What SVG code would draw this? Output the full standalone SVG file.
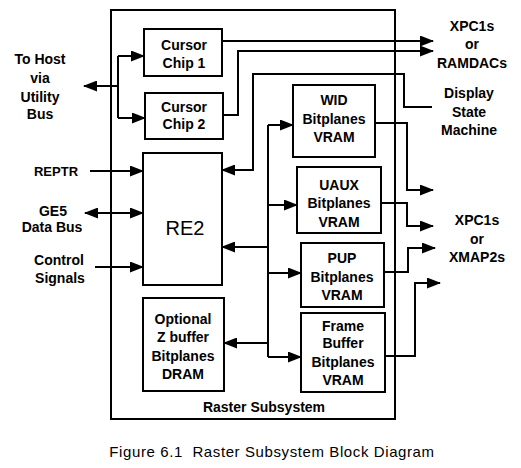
<svg xmlns="http://www.w3.org/2000/svg" width="521" height="468" viewBox="0 0 521 468">
<style>
.box{fill:#fff;stroke:#000;stroke-width:2}
.c{fill:none;stroke:#000;stroke-width:2}
.a{marker-end:url(#ah)}
.s{marker-start:url(#ah)}
text{font-family:"Liberation Sans",Arial,sans-serif;font-size:14px;font-weight:bold;text-anchor:middle;fill:#000}
.re{font-size:20px;font-weight:normal}
.cap{font-size:15px;font-weight:normal;letter-spacing:0.6px}
</style>
<defs>
<marker id="ah" markerWidth="14" markerHeight="11" refX="13" refY="5.5" orient="auto-start-reverse" markerUnits="userSpaceOnUse">
<path d="M0,0 L14,5.5 L0,11 z" fill="#000"/>
</marker>
</defs>
<rect width="521" height="468" fill="#fff"/>
<g id="raster-subsystem">
<rect class="box" x="111" y="10" width="284" height="409"/>
<text x="264" y="412">Raster Subsystem</text>
</g>
<g id="connectors">
<path class="c a" d="M118,86 H84"/>
<path class="c" d="M118,56 V118"/>
<path class="c a" d="M118,56 H144"/>
<path class="c a" d="M118,118 H145"/>
<path class="c a" d="M222,41 H433"/>
<path class="c a" d="M223,115 H238 V51 H433"/>
<path class="c a" d="M432,107 H404 V74 H253 V170 H222"/>
<path class="c a" d="M90,171 H143"/>
<path class="c a s" d="M85,213 H143"/>
<path class="c a" d="M95,267 H143"/>
<path class="c" d="M268,125 V357"/>
<path class="c a" d="M268,125 H293"/>
<path class="c a" d="M268,205 H297"/>
<path class="c a" d="M268,273 H301"/>
<path class="c a" d="M268,357 H301"/>
<path class="c a" d="M268,247 H222"/>
<path class="c a" d="M268,343 H224"/>
<path class="c a" d="M375,123 H407 V190 H433"/>
<path class="c a" d="M381,203 H407 V226 H433"/>
<path class="c a" d="M384,272 H408 V248 H435"/>
<path class="c a" d="M385,356 H415 V283 H440"/>
</g>
<g id="cursor-chip-1">
<rect class="box" x="144" y="29" width="78" height="47"/>
<text x="184" y="50">Cursor</text>
<text x="184" y="68">Chip 1</text>
</g>
<g id="cursor-chip-2">
<rect class="box" x="145" y="93" width="78" height="46"/>
<text x="184" y="112">Cursor</text>
<text x="184" y="129">Chip 2</text>
</g>
<g id="re2">
<rect class="box" x="143" y="153" width="79" height="132"/>
<text class="re" x="185" y="235">RE2</text>
</g>
<g id="zbuffer">
<rect class="box" x="143" y="298" width="81" height="93"/>
<text x="183" y="324">Optional</text>
<text x="183" y="342">Z buffer</text>
<text x="183" y="361">Bitplanes</text>
<text x="183" y="379">DRAM</text>
</g>
<g id="wid">
<rect class="box" x="293" y="85" width="82" height="72"/>
<text x="334" y="105">WID</text>
<text x="334" y="124">Bitplanes</text>
<text x="334" y="142">VRAM</text>
</g>
<g id="uaux">
<rect class="box" x="297" y="167" width="84" height="66"/>
<text x="339" y="190">UAUX</text>
<text x="339" y="208">Bitplanes</text>
<text x="339" y="227">VRAM</text>
</g>
<g id="pup">
<rect class="box" x="301" y="243" width="83" height="64"/>
<text x="342" y="263">PUP</text>
<text x="342" y="282">Bitplanes</text>
<text x="342" y="300">VRAM</text>
</g>
<g id="framebuffer">
<rect class="box" x="301" y="313" width="84" height="79"/>
<text x="343" y="331">Frame</text>
<text x="343" y="348">Buffer</text>
<text x="343" y="367">Bitplanes</text>
<text x="343" y="385">VRAM</text>
</g>
<g id="host-label">
<text x="40" y="64">To Host</text>
<text x="40" y="83">via</text>
<text x="40" y="102">Utility</text>
<text x="40" y="119">Bus</text>
</g>
<g id="reptr-label"><text x="56" y="176" style="font-size:13px">REPTR</text></g>
<g id="ge5-label">
<text x="53" y="216">GE5</text>
<text x="52" y="232">Data Bus</text>
</g>
<g id="control-label">
<text x="59" y="265">Control</text>
<text x="60" y="283">Signals</text>
</g>
<g id="ramdac-label">
<text x="472" y="31">XPC1s</text>
<text x="472" y="49">or</text>
<text x="472" y="68">RAMDACs</text>
</g>
<g id="dsm-label">
<text x="469" y="98">Display</text>
<text x="469" y="117">State</text>
<text x="469" y="135">Machine</text>
</g>
<g id="xmap-label">
<text x="477" y="225">XPC1s</text>
<text x="477" y="244">or</text>
<text x="477" y="262">XMAP2s</text>
</g>
<text class="cap" x="272" y="457" xml:space="preserve">Figure 6.1  Raster Subsystem Block Diagram</text>
</svg>
